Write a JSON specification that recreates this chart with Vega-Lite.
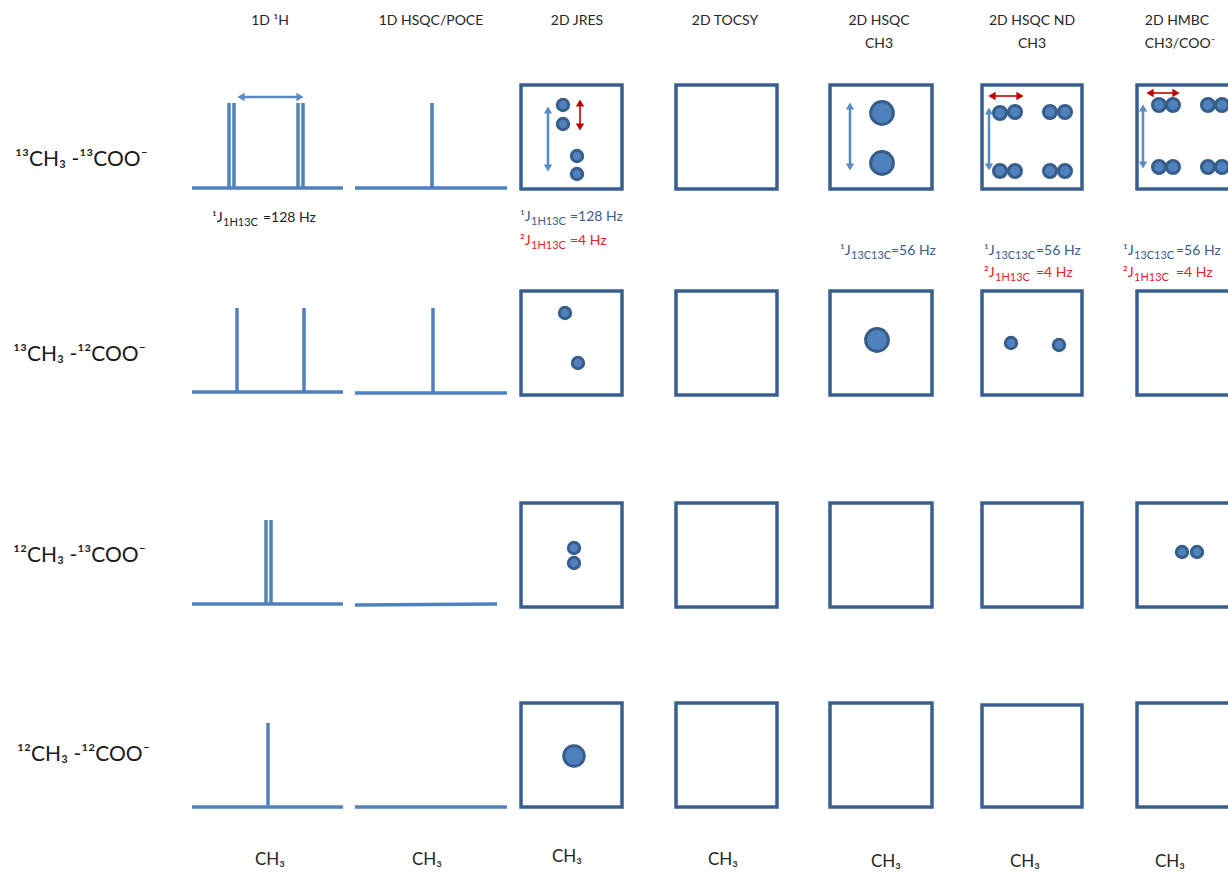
{
  "$schema": "https://vega.github.io/schema/vega-lite/v6.json",
  "width": 1228,
  "height": 873,
  "padding": 0,
  "autosize": {"type": "none"},
  "background": "white",
  "config": {"view": {"stroke": null}, "font": "Lato"},
  "datasets": {
    "boxes": [
      {"x": 521, "x2": 622, "y": 85, "y2": 189}, {"x": 676, "x2": 777, "y": 85, "y2": 189}, {"x": 830, "x2": 932, "y": 85, "y2": 189}, {"x": 982, "x2": 1082, "y": 85, "y2": 189}, {"x": 1137, "x2": 1240, "y": 85, "y2": 189},
      {"x": 521, "x2": 622, "y": 291, "y2": 395}, {"x": 676, "x2": 777, "y": 291, "y2": 395}, {"x": 830, "x2": 932, "y": 291, "y2": 395}, {"x": 982, "x2": 1082, "y": 291, "y2": 395}, {"x": 1137, "x2": 1240, "y": 291, "y2": 395},
      {"x": 521, "x2": 622, "y": 503, "y2": 607}, {"x": 676, "x2": 777, "y": 503, "y2": 607}, {"x": 830, "x2": 932, "y": 503, "y2": 607}, {"x": 982, "x2": 1082, "y": 503, "y2": 607}, {"x": 1137, "x2": 1240, "y": 503, "y2": 607},
      {"x": 521, "x2": 622, "y": 703, "y2": 807}, {"x": 676, "x2": 777, "y": 703, "y2": 807}, {"x": 830, "x2": 932, "y": 703, "y2": 807}, {"x": 982, "x2": 1082, "y": 705, "y2": 807}, {"x": 1137, "x2": 1240, "y": 703, "y2": 807}
    ],
    "lines": [
      {"x": 192, "y": 188, "x2": 343, "y2": 188, "k": "spec"},
      {"x": 355, "y": 188, "x2": 507, "y2": 188, "k": "spec"},
      {"x": 229, "y": 103, "x2": 229, "y2": 188, "k": "spec"},
      {"x": 234, "y": 103, "x2": 234, "y2": 188, "k": "spec"},
      {"x": 298, "y": 103, "x2": 298, "y2": 188, "k": "spec"},
      {"x": 303, "y": 103, "x2": 303, "y2": 188, "k": "spec"},
      {"x": 432, "y": 103, "x2": 432, "y2": 188, "k": "spec"},
      {"x": 192, "y": 392, "x2": 343, "y2": 392, "k": "spec"},
      {"x": 355, "y": 393, "x2": 507, "y2": 393, "k": "spec"},
      {"x": 237, "y": 308, "x2": 237, "y2": 392, "k": "spec"},
      {"x": 304, "y": 308, "x2": 304, "y2": 392, "k": "spec"},
      {"x": 433, "y": 308, "x2": 433, "y2": 393, "k": "spec"},
      {"x": 192, "y": 604, "x2": 343, "y2": 604, "k": "spec"},
      {"x": 355, "y": 605, "x2": 497, "y2": 604, "k": "spec"},
      {"x": 266, "y": 520, "x2": 266, "y2": 604, "k": "spec"},
      {"x": 271, "y": 520, "x2": 271, "y2": 604, "k": "spec"},
      {"x": 192, "y": 807, "x2": 343, "y2": 807, "k": "spec"},
      {"x": 355, "y": 807, "x2": 507, "y2": 807, "k": "spec"},
      {"x": 268, "y": 723, "x2": 268, "y2": 807, "k": "spec"},
      {"x": 242, "y": 97, "x2": 299, "y2": 97, "k": "ab"},
      {"x": 548, "y": 110, "x2": 548, "y2": 168, "k": "ab"},
      {"x": 580, "y": 103, "x2": 580, "y2": 127, "k": "ar"},
      {"x": 850, "y": 106, "x2": 850, "y2": 167, "k": "ab"},
      {"x": 992, "y": 96, "x2": 1020, "y2": 96, "k": "ar"},
      {"x": 989, "y": 111, "x2": 989, "y2": 167, "k": "ab"},
      {"x": 1150, "y": 93, "x2": 1176, "y2": 93, "k": "ar"},
      {"x": 1143, "y": 108, "x2": 1143, "y2": 165, "k": "ab"}
    ],
    "heads": [
      {"x": 241, "y": 97, "d": "left", "k": "ab"}, {"x": 300, "y": 97, "d": "right", "k": "ab"},
      {"x": 548, "y": 110, "d": "up", "k": "ab"}, {"x": 548, "y": 168, "d": "down", "k": "ab"},
      {"x": 580, "y": 103, "d": "up", "k": "ar"}, {"x": 580, "y": 127, "d": "down", "k": "ar"},
      {"x": 850, "y": 106, "d": "up", "k": "ab"}, {"x": 850, "y": 167, "d": "down", "k": "ab"},
      {"x": 992, "y": 96, "d": "left", "k": "ar"}, {"x": 1020, "y": 96, "d": "right", "k": "ar"},
      {"x": 989, "y": 111, "d": "up", "k": "ab"}, {"x": 989, "y": 167, "d": "down", "k": "ab"},
      {"x": 1150, "y": 93, "d": "left", "k": "ar"}, {"x": 1176, "y": 93, "d": "right", "k": "ar"},
      {"x": 1143, "y": 108, "d": "up", "k": "ab"}, {"x": 1143, "y": 165, "d": "down", "k": "ab"}
    ],
    "dots": [
      {"x": 563, "y": 105, "s": "s"}, {"x": 563, "y": 124, "s": "s"}, {"x": 577, "y": 156, "s": "s"}, {"x": 577, "y": 174, "s": "s"},
      {"x": 882, "y": 113, "s": "l"}, {"x": 882, "y": 163, "s": "l"},
      {"x": 1000, "y": 113, "s": "p"}, {"x": 1015, "y": 112, "s": "p"}, {"x": 1050, "y": 112, "s": "p"}, {"x": 1065, "y": 112, "s": "p"},
      {"x": 1000, "y": 171, "s": "p"}, {"x": 1015, "y": 171, "s": "p"}, {"x": 1050, "y": 171, "s": "p"}, {"x": 1065, "y": 171, "s": "p"},
      {"x": 1159, "y": 105, "s": "p"}, {"x": 1173, "y": 105, "s": "p"}, {"x": 1208, "y": 105, "s": "p"}, {"x": 1222, "y": 105, "s": "p"},
      {"x": 1159, "y": 167, "s": "p"}, {"x": 1173, "y": 167, "s": "p"}, {"x": 1208, "y": 167, "s": "p"}, {"x": 1222, "y": 167, "s": "p"},
      {"x": 565, "y": 313, "s": "s"}, {"x": 578, "y": 363, "s": "s"}, {"x": 877, "y": 340, "s": "l"}, {"x": 1011, "y": 343, "s": "s"}, {"x": 1059, "y": 345, "s": "s"},
      {"x": 574, "y": 548, "s": "s"}, {"x": 574, "y": 563, "s": "s"}, {"x": 1182, "y": 552, "s": "s"}, {"x": 1197, "y": 552, "s": "s"},
      {"x": 574, "y": 756, "s": "m"}
    ],
    "centered": [
      {"x": 270, "y": 21, "t": "1D ¹H", "r": "hdr"},
      {"x": 431, "y": 21, "t": "1D HSQC/POCE", "r": "hdr"},
      {"x": 577, "y": 21, "t": "2D JRES", "r": "hdr"},
      {"x": 725, "y": 21, "t": "2D  TOCSY", "r": "hdr"},
      {"x": 879, "y": 21, "t": "2D HSQC", "r": "hdr"},
      {"x": 879, "y": 44, "t": "CH3", "r": "hdr"},
      {"x": 1032, "y": 21, "t": "2D HSQC ND", "r": "hdr"},
      {"x": 1032, "y": 44, "t": "CH3", "r": "hdr"},
      {"x": 1177, "y": 21, "t": "2D HMBC", "r": "hdr"},
      {"x": 1180, "y": 44, "t": "CH3/COO⁻", "r": "hdr"},
      {"x": 270, "y": 860, "t": "CH₃", "r": "ch"},
      {"x": 427, "y": 860, "t": "CH₃", "r": "ch"},
      {"x": 567, "y": 857, "t": "CH₃", "r": "ch"},
      {"x": 723, "y": 860, "t": "CH₃", "r": "ch"},
      {"x": 886, "y": 862, "t": "CH₃", "r": "ch"},
      {"x": 1025, "y": 862, "t": "CH₃", "r": "ch"},
      {"x": 1170, "y": 862, "t": "CH₃", "r": "ch"}
    ],
    "labels": [
      {"x": 15, "y": 160, "t": "¹³CH₃ -¹³COO⁻"},
      {"x": 13, "y": 355, "t": "¹³CH₃ -¹²COO⁻"},
      {"x": 13, "y": 556, "t": "¹²CH₃ -¹³COO⁻"},
      {"x": 17, "y": 755, "t": "¹²CH₃ -¹²COO⁻"}
    ],
    "notes": [
      {"x": 212, "y": 222, "t": "¹J", "r": "ann", "c": "k"},
      {"x": 223, "y": 226, "t": "1H13C", "r": "sub", "c": "k"},
      {"x": 263, "y": 222, "t": "=128 Hz", "r": "ann", "c": "k"},
      {"x": 520, "y": 221, "t": "¹J", "r": "ann", "c": "b"},
      {"x": 531, "y": 225, "t": "1H13C", "r": "sub", "c": "b"},
      {"x": 570, "y": 221, "t": "=128 Hz", "r": "ann", "c": "b"},
      {"x": 520, "y": 245, "t": "²J", "r": "ann", "c": "r"},
      {"x": 531, "y": 249, "t": "1H13C", "r": "sub", "c": "r"},
      {"x": 570, "y": 245, "t": "=4 Hz", "r": "ann", "c": "r"},
      {"x": 840, "y": 255, "t": "¹J", "r": "ann", "c": "b"},
      {"x": 851, "y": 259, "t": "13C13C", "r": "sub", "c": "b"},
      {"x": 891, "y": 255, "t": "=56 Hz", "r": "ann", "c": "b"},
      {"x": 984, "y": 255, "t": "¹J", "r": "ann", "c": "b"},
      {"x": 995, "y": 259, "t": "13C13C", "r": "sub", "c": "b"},
      {"x": 1036, "y": 255, "t": "=56  Hz", "r": "ann", "c": "b"},
      {"x": 984, "y": 277, "t": "²J", "r": "ann", "c": "r"},
      {"x": 995, "y": 281, "t": "1H13C", "r": "sub", "c": "r"},
      {"x": 1036, "y": 277, "t": "=4 Hz", "r": "ann", "c": "r"},
      {"x": 1123, "y": 255, "t": "¹J", "r": "ann", "c": "b"},
      {"x": 1134, "y": 259, "t": "13C13C", "r": "sub", "c": "b"},
      {"x": 1176, "y": 255, "t": "=56 Hz", "r": "ann", "c": "b"},
      {"x": 1123, "y": 277, "t": "²J", "r": "ann", "c": "r"},
      {"x": 1134, "y": 281, "t": "1H13C", "r": "sub", "c": "r"},
      {"x": 1176, "y": 277, "t": "=4 Hz", "r": "ann", "c": "r"}
    ]
  },
  "layer": [
    {
      "data": {"name": "boxes"},
      "mark": {"type": "rect", "fill": "white", "stroke": "#3a5f8e", "strokeWidth": 3.5},
      "encoding": {
        "x": {"field": "x", "type": "quantitative", "scale": {"domain": [0, 1228], "nice": false, "zero": false}, "axis": null},
        "x2": {"field": "x2"},
        "y": {"field": "y", "type": "quantitative", "scale": {"domain": [0, 873], "nice": false, "zero": false, "reverse": true}, "axis": null},
        "y2": {"field": "y2"}
      }
    },
    {
      "data": {"name": "lines"},
      "mark": {"type": "rule", "strokeCap": "butt"},
      "encoding": {
        "x": {"field": "x", "type": "quantitative", "axis": null},
        "x2": {"field": "x2"},
        "y": {"field": "y", "type": "quantitative", "axis": null},
        "y2": {"field": "y2"},
        "color": {"field": "k", "type": "nominal", "scale": {"domain": ["spec", "ab", "ar"], "range": ["#4f81bd", "#5b8bc4", "#c00000"]}, "legend": null},
        "strokeWidth": {"field": "k", "type": "nominal", "scale": {"domain": ["spec", "ab", "ar"], "range": [3.5, 1.6, 2.2]}, "legend": null}
      }
    },
    {
      "data": {"name": "dots"},
      "transform": [{"filter": "datum.s === 's'"}],
      "mark": {"type": "point", "shape": "circle", "filled": true, "fill": "#4f81bd", "stroke": "#385d8a", "strokeWidth": 3, "opacity": 1, "size": 130},
      "encoding": {
        "x": {"field": "x", "type": "quantitative", "axis": null},
        "y": {"field": "y", "type": "quantitative", "axis": null}
      }
    },
    {
      "data": {"name": "dots"},
      "transform": [{"filter": "datum.s === 'p'"}],
      "mark": {"type": "point", "shape": "circle", "filled": true, "fill": "#4f81bd", "stroke": "#385d8a", "strokeWidth": 3, "opacity": 1, "size": 170},
      "encoding": {
        "x": {"field": "x", "type": "quantitative", "axis": null},
        "y": {"field": "y", "type": "quantitative", "axis": null}
      }
    },
    {
      "data": {"name": "dots"},
      "transform": [{"filter": "datum.s === 'm'"}],
      "mark": {"type": "point", "shape": "circle", "filled": true, "fill": "#4f81bd", "stroke": "#385d8a", "strokeWidth": 3, "opacity": 1, "size": 420},
      "encoding": {
        "x": {"field": "x", "type": "quantitative", "axis": null},
        "y": {"field": "y", "type": "quantitative", "axis": null}
      }
    },
    {
      "data": {"name": "dots"},
      "transform": [{"filter": "datum.s === 'l'"}],
      "mark": {"type": "point", "shape": "circle", "filled": true, "fill": "#4f81bd", "stroke": "#385d8a", "strokeWidth": 3, "opacity": 1, "size": 520},
      "encoding": {
        "x": {"field": "x", "type": "quantitative", "axis": null},
        "y": {"field": "y", "type": "quantitative", "axis": null}
      }
    },
    {
      "data": {"name": "heads"},
      "mark": {"type": "point", "filled": true, "size": 70, "opacity": 1, "strokeWidth": 0},
      "encoding": {
        "x": {"field": "x", "type": "quantitative", "axis": null},
        "y": {"field": "y", "type": "quantitative", "axis": null},
        "shape": {"field": "d", "type": "nominal", "scale": {"domain": ["up", "down", "left", "right"], "range": ["triangle-up", "triangle-down", "triangle-left", "triangle-right"]}, "legend": null},
        "color": {"field": "k", "type": "nominal", "scale": {"domain": ["ab", "ar"], "range": ["#5b8bc4", "#c00000"]}, "legend": null}
      }
    },
    {
      "data": {"name": "centered"},
      "mark": {"type": "text", "align": "center", "baseline": "middle", "font": "Lato", "color": "#262626"},
      "encoding": {
        "x": {"field": "x", "type": "quantitative", "axis": null},
        "y": {"field": "y", "type": "quantitative", "axis": null},
        "text": {"field": "t"},
        "size": {"field": "r", "type": "nominal", "scale": {"domain": ["hdr", "ch"], "range": [14, 17]}, "legend": null}
      }
    },
    {
      "data": {"name": "labels"},
      "mark": {"type": "text", "align": "left", "baseline": "middle", "font": "Lato", "fontSize": 21, "color": "#1a1a1a"},
      "encoding": {
        "x": {"field": "x", "type": "quantitative", "axis": null},
        "y": {"field": "y", "type": "quantitative", "axis": null},
        "text": {"field": "t"}
      }
    },
    {
      "data": {"name": "notes"},
      "mark": {"type": "text", "align": "left", "baseline": "alphabetic", "font": "Lato"},
      "encoding": {
        "x": {"field": "x", "type": "quantitative", "axis": null},
        "y": {"field": "y", "type": "quantitative", "axis": null},
        "text": {"field": "t"},
        "size": {"field": "r", "type": "nominal", "scale": {"domain": ["ann", "sub"], "range": [14, 11]}, "legend": null},
        "color": {"field": "c", "type": "nominal", "scale": {"domain": ["k", "b", "r"], "range": ["#222222", "#3b5b8c", "#e3242b"]}, "legend": null}
      }
    }
  ],
  "resolve": {"scale": {"color": "independent", "size": "independent", "strokeWidth": "independent", "shape": "independent"}}
}
